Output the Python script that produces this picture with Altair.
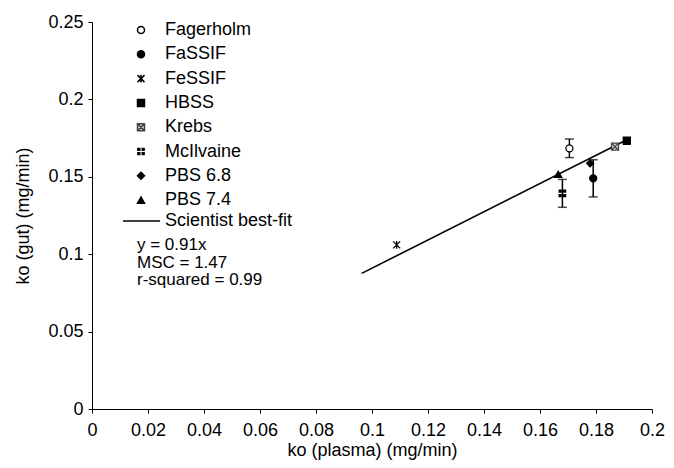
import altair as alt
import pandas as pd

# ---- data ----
media = ["Fagerholm", "FaSSIF", "FeSSIF", "HBSS", "Krebs", "McIlvaine", "PBS 6.8", "PBS 7.4"]
ko_plasma = [0.1705, 0.1790, 0.1088, 0.1910, 0.1868, 0.1680, 0.1779, 0.1665]
ko_gut = [0.1684, 0.1490, 0.1060, 0.1733, 0.1695, 0.1393, 0.1587, 0.1516]
ko_gut_err = [0.0060, 0.0120, 0.0, 0.0, 0.0, 0.0090, 0.0, 0.0]

fit_name = "Scientist best-fit"
fit_plasma = [0.0963, 0.1905]
fit_gut = [0.0876, 0.1734]

annotations = ["y = 0.91x", "MSC = 1.47", "r-squared = 0.99"]

x_ticks = [0, 0.02, 0.04, 0.06, 0.08, 0.1, 0.12, 0.14, 0.16, 0.18, 0.2]
y_ticks = [0, 0.05, 0.1, 0.15, 0.2, 0.25]

# ---- marker styling ----
shapes = [
    "circle",
    "circle",
    "M-1,-1L1,1M1,-1L-1,1M0,-1.1L0,1.1",
    "square",
    "M-1,-1L1,-1L1,1L-1,1ZM-1,-1L1,1M1,-1L-1,1",
    "M-1.1,-1.1H-0.15V-0.15H-1.1ZM0.15,-1.1H1.1V-0.15H0.15ZM-1.1,0.15H-0.15V1.1H-1.1ZM0.15,0.15H1.1V1.1H0.15Z",
    "diamond",
    "triangle-up",
]
fills = ["white", "black", "black", "black", "#d0d0d0", "black", "black", "black"]
strokes = ["black", "black", "black", "black", "#444444", "transparent", "black", "black"]

pts = pd.DataFrame({"media": media, "x": ko_plasma, "y": ko_gut, "e": ko_gut_err})
pts["lo"] = pts["y"] - pts["e"]
pts["hi"] = pts["y"] + pts["e"]
errs = pts[pts["e"] > 0]
caps = pd.concat([
    errs[["media", "x"]].assign(c=errs["lo"]),
    errs[["media", "x"]].assign(c=errs["hi"]),
])
fit = pd.DataFrame({"x": fit_plasma, "y": fit_gut})

FONT = "Liberation Sans"

xscale = alt.Scale(domain=[0, 0.2], nice=False, zero=False)
yscale = alt.Scale(domain=[0, 0.25], nice=False, zero=False)
xaxis = alt.Axis(values=x_ticks, format="~g", title="ko (plasma) (mg/min)", grid=False,
                 tickSize=4, labelPadding=8, titlePadding=2, labelFlush=False)
yaxis = alt.Axis(values=y_ticks, format="~g", title="ko (gut) (mg/min)", grid=False,
                 tickSize=4, labelPadding=5, titlePadding=15)

line = alt.Chart(fit).mark_line(color="black", strokeWidth=1.6).encode(
    x=alt.X("x:Q", scale=xscale, axis=xaxis),
    y=alt.Y("y:Q", scale=yscale, axis=yaxis),
)

bars = alt.Chart(errs).mark_rule(color="black", strokeWidth=1.5).encode(
    x=alt.X("x:Q", scale=xscale),
    y=alt.Y("lo:Q", scale=yscale),
    y2="hi:Q",
)

capmarks = alt.Chart(caps).mark_tick(color="black", thickness=1.5, size=9, orient="horizontal").encode(
    x=alt.X("x:Q", scale=xscale),
    y=alt.Y("c:Q", scale=yscale),
)

legend = alt.Legend(
    title=None, orient="none", legendX=40, legendY=-1, padding=0,
    labelFont=FONT, labelFontSize=18, labelColor="black", labelOffset=15,
    symbolSize=49, symbolStrokeWidth=1.5, symbolOpacity=1, rowPadding=6.3,
    labelLimit=300,
)

points = alt.Chart(pts).mark_point(size=49, opacity=1, strokeWidth=1.3).encode(
    x=alt.X("x:Q", scale=xscale),
    y=alt.Y("y:Q", scale=yscale),
    shape=alt.Shape("media:N", scale=alt.Scale(domain=media, range=shapes), legend=legend),
    fill=alt.Fill("media:N", scale=alt.Scale(domain=media, range=fills), legend=legend),
    stroke=alt.Stroke("media:N", scale=alt.Scale(domain=media, range=strokes), legend=legend),
)

# legend entry for the fitted line (drawn beside the symbol legend)
one = pd.DataFrame({"k": [0]})
fit_key = alt.Chart(one).mark_rule(color="black", strokeWidth=1.5).encode(
    x=alt.value(31), x2=alt.value(68), y=alt.value(199)
)
fit_label = alt.Chart(one).mark_text(
    text=fit_name, align="left", baseline="middle", font=FONT, fontSize=18, color="black"
).encode(x=alt.value(73), y=alt.value(199))

text = alt.Chart(one).mark_text(
    text=annotations, align="left", baseline="top", font=FONT, fontSize=17,
    lineHeight=17.5, color="black",
).encode(x=alt.value(45), y=alt.value(215))

chart = alt.layer(line, bars, capmarks, points, fit_key, fit_label, text).properties(
    width=560, height=387,
    autosize=alt.AutoSizeParams(type="none"),
    padding={"left": 84, "top": 14, "right": 14, "bottom": 51},
    background="white",
).configure_view(stroke=None).configure_axis(
    domainColor="black", tickColor="black", domainWidth=1, tickWidth=1,
    labelFont=FONT, labelFontSize=18, labelColor="black",
    titleFont=FONT, titleFontSize=18, titleColor="black", titleFontWeight="normal",
)

chart.save("out.html", embed_options={"renderer": "svg", "actions": False})
